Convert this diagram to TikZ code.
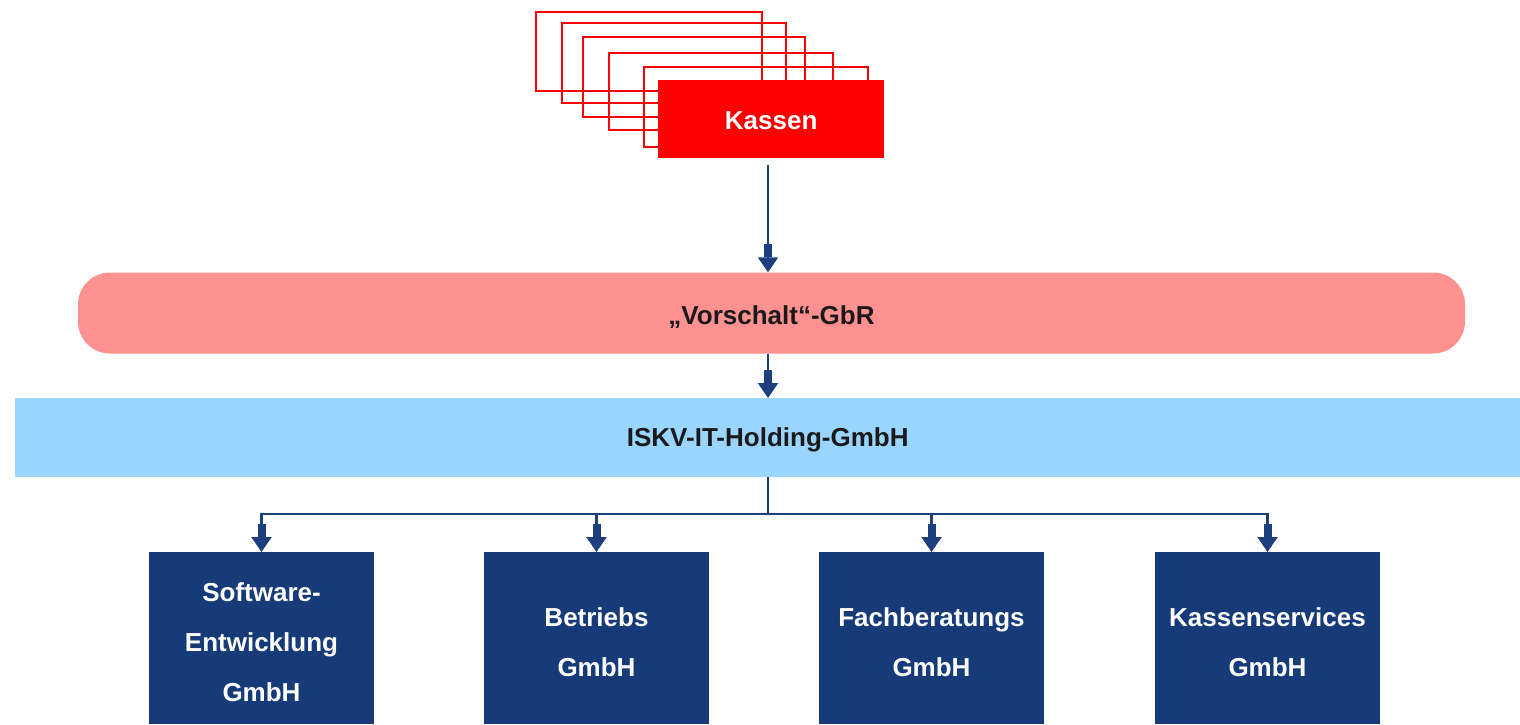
\documentclass[tikz,border=0pt]{standalone}
\usepackage{fontspec}
\setmainfont{Liberation Sans}
\usetikzlibrary{arrows.meta}
\definecolor{kred}{HTML}{FF0000}
\definecolor{pill}{HTML}{FF9191}
\definecolor{hold}{HTML}{99D5FF}
\definecolor{dblue}{HTML}{163B78}
\definecolor{lblue}{HTML}{1E3F7E}
\definecolor{dtext}{HTML}{1A1A1A}
\tikzset{
  stackbox/.style={draw=kred, line width=2pt},
  lbl/.style={font=\fontsize{26}{50}\selectfont\bfseries, align=center},
  arr/.style={draw=lblue, line width=2.2pt,
    -{Rectangle[width=8pt,length=13pt]Triangle[width=20pt,length=15pt]}},
  conn/.style={draw=lblue, line width=2pt},
  txt/.style n args={3}{label={[lbl,text=#1,yshift=#2]center:#3}},
  subbox/.style={fill=dblue, minimum width=225pt, minimum height=172pt, inner sep=0pt, anchor=north,
    txt={white}{-3.5pt}{#1}}
}
\begin{document}
\begin{tikzpicture}[x=1pt,y=-1pt]
\useasboundingbox[fill=white] (0,0) rectangle (1520,724);
% stacked outlines
\draw[stackbox] (536,12) rectangle (762,91);
\draw[stackbox] (562,23) rectangle (786,103);
\draw[stackbox] (583,37) rectangle (805,117);
\draw[stackbox] (609,53) rectangle (833,130);
\draw[stackbox] (644,67) rectangle (868,147);
\node[fill=kred, minimum width=226pt, minimum height=78pt, inner sep=0pt, anchor=north west,
  txt={white}{-1.5pt}{Kassen}] (kassen) at (658,80) {};
% pill
\node[fill=pill, rounded corners=32pt, minimum width=1387pt, minimum height=81pt, inner sep=0pt,
  txt={dtext}{-4pt}{„Vorschalt“-GbR}] (gbr) at (771.5,313) {};
% holding
\node[fill=hold, minimum width=1505pt, minimum height=79pt, inner sep=0pt, anchor=north west,
  txt={dtext}{-2.5pt}{ISKV-IT-Holding-GmbH}] (holding) at (15,398) {};
% sub companies
\node[subbox={Software-\\Entwicklung\\GmbH}] (b1) at (261.5,552) {};
\node[subbox={Betriebs\\GmbH}] (b2) at (596.5,552) {};
\node[subbox={Fachberatungs\\GmbH}] (b3) at (931.5,552) {};
\node[subbox={Kassenservices\\GmbH}] (b4) at (1267.5,552) {};
% connectors
\draw[arr, shorten <=7pt] (kassen.south -| 768,0) -- (gbr.north -| 768,0);
\draw[arr] (gbr.south -| 768,0) -- (holding.north -| 768,0);
\coordinate (j) at (768,514);
\draw[conn] (holding.south -| j) -- (j);
\draw[arr] (j) -| (b1.north);
\draw[arr] (j) -| (b2.north);
\draw[arr] (j) -| (b3.north);
\draw[arr] (j) -| (b4.north);
\end{tikzpicture}
\end{document}
